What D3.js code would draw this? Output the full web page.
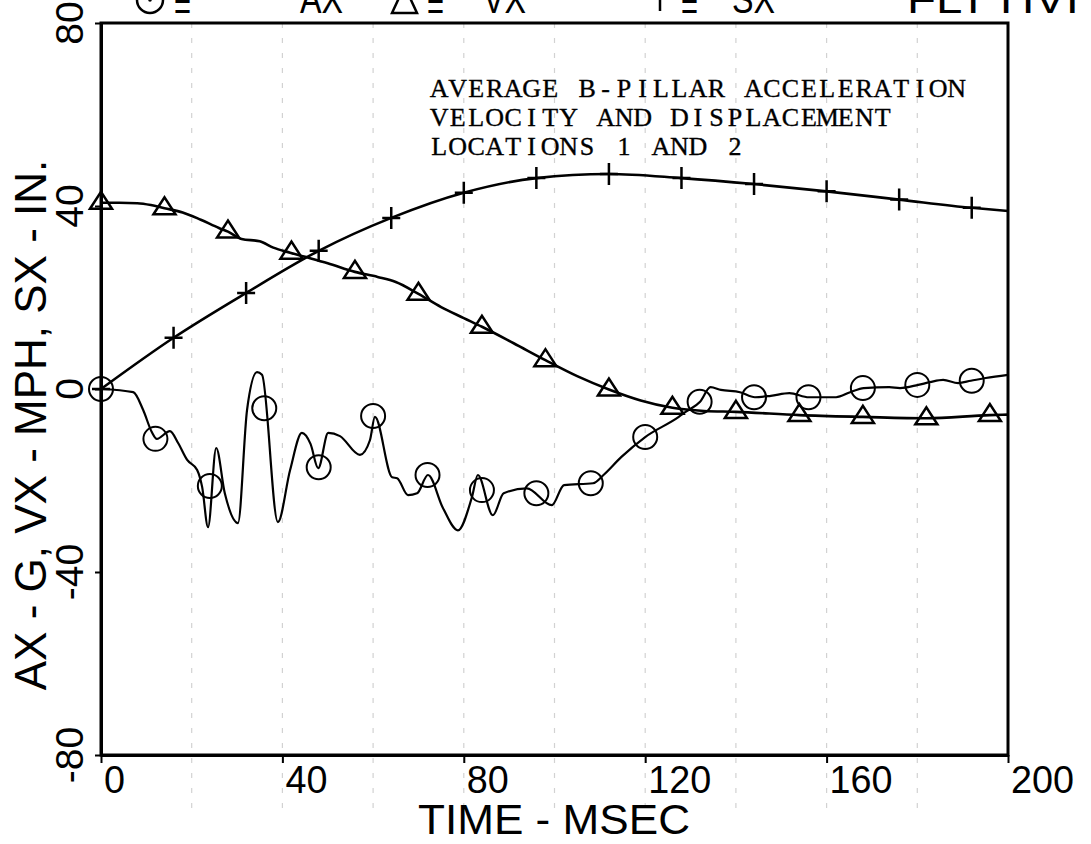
<!DOCTYPE html>
<html>
<head>
<meta charset="utf-8">
<script src="https://cdn.jsdelivr.net/npm/d3@7/dist/d3.min.js"></script>
<style>
  html, body { margin: 0; padding: 0; background: #fff; }
  svg { display: block; }
</style>
</head>
<body>
<svg id="chart" width="1091" height="844"></svg>
<script>
// ---------------- DATA ----------------
const timeTicks = [0, 40, 80, 120, 160, 200];
const valueTicks = [-80, -40, 0, 40, 80];
const gridTimes = [20, 40, 60, 80, 100, 120, 140, 160, 180];

// AX (G) trace – circles
const axTime = [0,7.1,9.3,11.2,12.3,15.2,17.0,19.0,21.2,22.3,23.6,25.4,27.3,30.2,32.2,34.4,35.5,39.0,41.7,44.3,46.2,47.9,50.1,52.7,57.1,59.3,60.4,64.2,65.3,67.7,69.7,72.1,75.4,78.7,81.8,83.1,86.4,88.8,93.9,99.4,102.1,108.5,110.8,114.7,120.0,127.4,128.9,132.1,134.4,136.7,140.9,144.2,147.7,151.8,156.1,162.1,165.2,168.2,173.8,176.2,180.2,182.8,185.7,189.0,191.8,195.1,200];
const axValue = [0,-0.7,-4.6,-9.4,-10.9,-9.2,-11.8,-15.5,-17.7,-21.4,-30.2,-12.9,-22.8,-29.3,-4.6,3.7,3.1,-29.1,-17.7,-9.6,-12.0,-17.3,-9.6,-10.3,-14.4,-11.2,-6.1,-19.3,-19.5,-23.2,-22.8,-18.8,-26.0,-30.9,-23.6,-18.8,-27.6,-22.8,-21.7,-25.4,-21.0,-20.6,-18.8,-14.9,-10.5,-6.1,-5.0,-2.8,0.4,-0.2,-0.7,-1.8,-1.5,-0.9,-1.8,-1.8,-0.7,0.2,0.4,0.2,0.9,1.5,2.0,1.3,1.8,2.4,3.1];
const axMarkTime = [0,12,24,36,48,60,72,84,96,108,120,132,144,156,168,180,192];
const axMarkValue = [0,-10.9,-21.2,-4.2,-17.1,-5.9,-18.8,-22.1,-22.8,-20.6,-10.5,-2.8,-1.8,-1.8,0.2,0.9,1.8];

// VX (MPH) trace – triangles
const vxTime = [0,4,8,11,14,18,22,26,28,31,35,38,41.7,45,50,56,61,65,70,75,80,84,91,98,105,112,119,126,133,140,154,168,182,196,200];
const vxValue = [40.7,40.7,40.6,40.2,39.5,38.6,37.0,35.2,34.4,32.8,32.3,30.9,29.8,28.9,27.5,25.6,24.5,23.4,20.8,17.9,15.5,13.6,10.0,6.3,2.8,-0.1,-2.5,-4.1,-4.8,-5.0,-5.7,-6.1,-6.4,-5.7,-5.6];
const vxMarkTime = [0,14,28,42,56,70,84,98,112,126,140,154,168,182,196];
const vxMarkValue = [40.7,39.5,34.4,29.8,25.6,20.8,13.6,6.3,-0.1,-4.1,-5.0,-5.7,-6.1,-6.4,-5.7];

// SX (IN) trace – plus signs
const sxTime = [0,16,32,48,64,80,96,112,128,144,160,176,192,200];
const sxValue = [0,11.2,21.0,30.2,37.4,42.9,46.1,47.0,46.1,44.8,43.2,41.4,39.6,38.9];
const sxMarkTime = [0,16,32,48,64,80,96,112,128,144,160,176,192];
const sxMarkValue = [0,11.2,21.0,30.2,37.4,42.9,46.1,47.0,46.1,44.8,43.2,41.4,39.6];

const annotationLines = ["AVERAGE B-PILLAR ACCELERATION", "VELOCITY AND DISPLACEMENT", "LOCATIONS 1 AND 2"];
const legendLabels = ["AX", "VX", "SX"];
const headerTail = "FLT HVI";
const xTitle = "TIME - MSEC";
const yTitle = "AX - G, VX - MPH, SX - IN.";

// ---------------- DRAW ----------------
const svg = d3.select("#chart");
const x = d3.scaleLinear().domain([0, 200]).range([101, 1008]);
const y = d3.scaleLinear().domain([-80, 80]).range([755, 23]);
const FONT = "'Liberation Sans', Arial, sans-serif";

// faint paper grid
svg.append("g").selectAll("line").data(gridTimes).join("line")
  .attr("x1", d => x(d)).attr("x2", d => x(d))
  .attr("y1", y(80)).attr("y2", y(-80) + 60)
  .attr("stroke", "#d2d2d2").attr("stroke-width", 1.2)
  .attr("stroke-dasharray", "5,10");

// frame
svg.append("rect")
  .attr("x", x(0)).attr("y", y(80))
  .attr("width", x(200) - x(0)).attr("height", y(-80) - y(80))
  .attr("fill", "none").attr("stroke", "#000").attr("stroke-width", 3);

// x axis
const gx = svg.append("g").attr("transform", `translate(0,${y(-80)})`)
  .call(d3.axisBottom(x).tickValues(timeTicks).tickSize(8).tickSizeOuter(0).tickFormat(""));
gx.select(".domain").attr("stroke-width", 3);
gx.selectAll(".tick line").attr("stroke-width", 2);
svg.append("g").selectAll("text").data(timeTicks).join("text")
  .attr("x", d => x(d) + 3).attr("y", 793)
  .attr("font-family", FONT).attr("font-size", 39)
  .attr("textLength", d => String(d).length * 21)
  .attr("lengthAdjust", "spacingAndGlyphs")
  .text(d => d);

// y axis
const gy = svg.append("g").attr("transform", `translate(${x(0)},0)`)
  .call(d3.axisLeft(y).tickValues(valueTicks).tickSize(6).tickSizeOuter(0).tickFormat(""));
gy.select(".domain").attr("stroke-width", 3);
gy.selectAll(".tick line").attr("stroke-width", 2);
svg.append("g").selectAll("text").data(valueTicks).join("text")
  .attr("transform", d => `translate(83,${y(d)}) rotate(-90)`)
  .attr("text-anchor", "middle")
  .attr("font-family", FONT).attr("font-size", 39)
  .text(d => d);

// axis titles
svg.append("text")
  .attr("x", 418).attr("y", 834)
  .attr("font-family", FONT).attr("font-size", 43)
  .attr("textLength", 272).attr("lengthAdjust", "spacingAndGlyphs")
  .text(xTitle);
svg.append("text")
  .attr("transform", `translate(46,${425}) rotate(-90)`)
  .attr("text-anchor", "middle")
  .attr("font-family", FONT).attr("font-size", 44)
  .text(yTitle);

// header legend (clipped at top edge)
const hdr = svg.append("g").attr("font-family", FONT).attr("font-size", 40);
hdr.append("circle").attr("cx", 150).attr("cy", 0).attr("r", 13)
  .attr("fill", "none").attr("stroke", "#000").attr("stroke-width", 2.5);
hdr.append("circle").attr("cx", 150).attr("cy", 0).attr("r", 1.8).attr("fill", "#000");
hdr.append("path").attr("d", "M392,13 L404.5,-14 L417,13 Z")
  .attr("fill", "none").attr("stroke", "#000").attr("stroke-width", 2.5);
hdr.append("path").attr("d", "M660,-14 L660,11 M648,-2 L672,-2")
  .attr("fill", "none").attr("stroke", "#000").attr("stroke-width", 2.5);
[174, 427, 681].forEach(px => {
  hdr.append("text").attr("x", px).attr("y", 20).text("=")
    .attr("textLength", 17).attr("lengthAdjust", "spacingAndGlyphs");
});
[[300, 0], [483, 1], [732, 2]].forEach(([px, i]) => {
  hdr.append("text").attr("x", px).attr("y", 13).text(legendLabels[i])
    .attr("textLength", 43).attr("lengthAdjust", "spacingAndGlyphs");
});
hdr.append("text").attr("x", 907).attr("y", 13).text(headerTail)
  .attr("textLength", 172).attr("lengthAdjust", "spacingAndGlyphs");

// annotation (typewriter, fixed pitch)
const annot = svg.append("g").attr("font-family", "'Liberation Serif', 'Times New Roman', serif")
  .attr("font-size", 26).attr("text-anchor", "middle")
  .attr("stroke", "#000").attr("stroke-width", 0.35);
annotationLines.forEach((line, li) => {
  annot.append("g").selectAll("text").data(line.split("")).join("text")
    .attr("x", (c, i) => 430 + 18.48 * (i + 0.5))
    .attr("y", 97 + li * 29)
    .text(c => c);
});

// lines
const lineGen = d3.line().x(d => x(d[0])).y(d => y(d[1])).curve(d3.curveMonotoneX);
const zip = (a, b) => a.map((t, i) => [t, b[i]]);

svg.append("path").datum(zip(vxTime, vxValue)).attr("d", lineGen)
  .attr("fill", "none").attr("stroke", "#000").attr("stroke-width", 2.6);
svg.append("path").datum(zip(sxTime, sxValue)).attr("d", lineGen)
  .attr("fill", "none").attr("stroke", "#000").attr("stroke-width", 2.6);
svg.append("path").datum(zip(axTime, axValue)).attr("d", lineGen)
  .attr("fill", "none").attr("stroke", "#000").attr("stroke-width", 2.2)
  .attr("stroke-linejoin", "round");

// markers
svg.append("g").selectAll("circle").data(zip(axMarkTime, axMarkValue)).join("circle")
  .attr("cx", d => x(d[0])).attr("cy", d => y(d[1])).attr("r", 12)
  .attr("fill", "none").attr("stroke", "#000").attr("stroke-width", 2);
svg.append("g").selectAll("path").data(zip(vxMarkTime, vxMarkValue)).join("path")
  .attr("d", d => { const cx = x(d[0]), cy = y(d[1]);
    return `M${cx - 11},${cy + 6} L${cx},${cy - 11} L${cx + 11},${cy + 6} Z`; })
  .attr("fill", "none").attr("stroke", "#000").attr("stroke-width", 2.5);
svg.append("g").selectAll("path").data(zip(sxMarkTime, sxMarkValue)).join("path")
  .attr("d", d => { const cx = x(d[0]), cy = y(d[1]);
    return `M${cx},${cy - 11} L${cx},${cy + 11} M${cx - 9},${cy} L${cx + 9},${cy}`; })
  .attr("fill", "none").attr("stroke", "#000").attr("stroke-width", 2.5);
</script>
</body>
</html>
